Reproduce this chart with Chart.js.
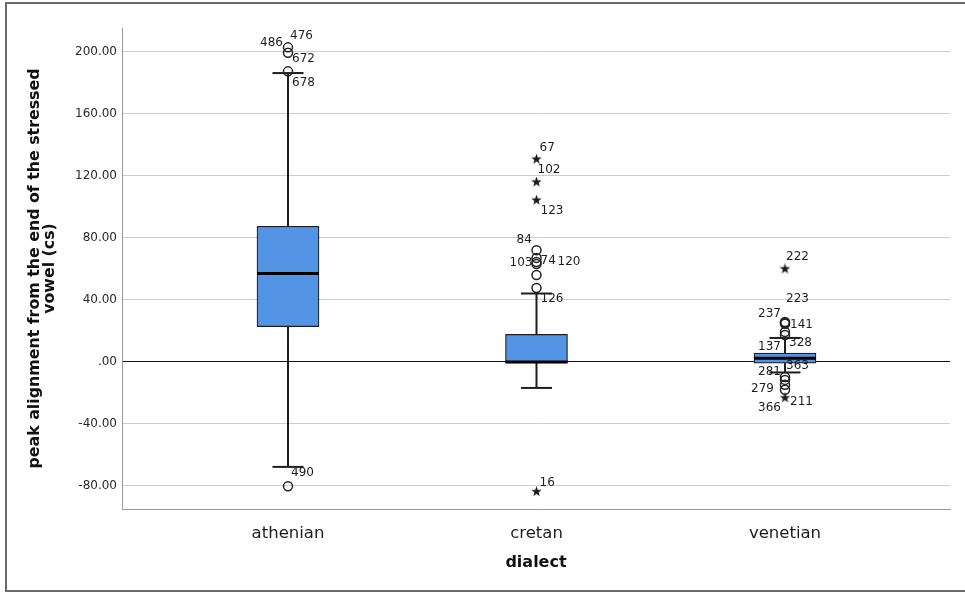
<!DOCTYPE html>
<html lang="en">
<head>
    <meta charset="UTF-8" />
    <title>peak alignment by dialect</title>
    <script src="https://cdn.jsdelivr.net/npm/chart.js"></script>
    <style>
        * { margin: 0; padding: 0; box-sizing: border-box; }
        body { background: #fff; width: 965px; height: 593px; overflow: hidden; position: relative; }
        .frame {
            position: absolute; left: 5px; top: 2px; width: 975px; height: 590px;
            border: 2px solid #6a6a6a;
        }
        canvas { position: absolute; left: 0; top: 0; }
    </style>
</head>
<body>
    <div class="frame"></div>
    <canvas id="boxChart" width="965" height="593"></canvas>
    <script>
        // categories and box statistics
        const categories = ['athenian', 'cretan', 'venetian'];
        const q1 = [22.6, -0.8, -1.0];
        const medians = [57.0, -0.3, 2.2];
        const q3 = [87.4, 17.6, 5.5];
        const whiskerLow = [-68.0, -17.0, -7.0];
        const whiskerHigh = [186.4, 44.0, 15.3];

        // outliers (circles) and extremes (stars), with case numbers
        const athenianOutliers = [219.5, 203, 199.5, 187.5, -80.5];
        const athenianOutlierIds = ['476', '486', '672', '678', '490'];
        const cretanOutliers = [72, 67, 64.4, 63, 56, 47.6];
        const cretanOutlierIds = ['84', '103', '74', '120', '', '126'];
        const cretanExtremes = [130.8, 116, 104.3, -84];
        const cretanExtremeIds = ['67', '102', '123', '16'];
        const venetianOutliers = [25.6, 25, 24.4, 19.2, 17.2, -9.9, -11.8, -15, -18.2];
        const venetianOutlierIds = ['223', '237', '141', '137', '328', '363', '281', '279', '366'];
        const venetianExtremes = [59.9, -23.4];
        const venetianExtremeIds = ['222', '211'];

        const yTicks = [-80, -40, 0, 40, 80, 120, 160, 200];

        const outlierSets = [
            { cat: 0, values: athenianOutliers, ids: athenianOutlierIds, star: false },
            { cat: 1, values: cretanOutliers, ids: cretanOutlierIds, star: false },
            { cat: 1, values: cretanExtremes, ids: cretanExtremeIds, star: true },
            { cat: 2, values: venetianOutliers, ids: venetianOutlierIds, star: false },
            { cat: 2, values: venetianExtremes, ids: venetianExtremeIds, star: true }
        ];

        // where SPSS put each case label relative to its marker
        const labelOffsets = {
            '476': [2, 14], '486': [-28, -4], '672': [4, 6], '678': [4, 12], '490': [3, -13],
            '67': [3, -11], '102': [1, -12], '123': [4, 11], '84': [-20, -10], '103': [-27, 5],
            '74': [4, -1], '120': [21, -2], '126': [4, 11], '16': [3, -9],
            '222': [1, -12], '223': [1, -23], '237': [-27, -9], '141': [5, 1], '137': [-27, 15],
            '328': [4, 8], '363': [1, -11], '281': [-27, -8], '279': [-34, 4], '366': [-27, 18], '211': [5, 4]
        };

        function makeStar(size) {
            const c = document.createElement('canvas');
            c.width = size; c.height = size;
            const g = c.getContext('2d');
            g.fillStyle = '#1a1a1a';
            g.beginPath();
            for (let i = 0; i < 10; i++) {
                const r = i % 2 ? size * 0.2 : size * 0.5;
                const a = -Math.PI / 2 + i * Math.PI / 5;
                g.lineTo(size / 2 + r * Math.cos(a), size / 2 + r * Math.sin(a));
            }
            g.closePath();
            g.fill();
            return c;
        }
        const starImg = makeStar(11);

        const boxWidth = 62;
        const capWidth = 31;

        const whiskerPlugin = {
            id: 'whiskers',
            beforeDatasetsDraw(chart) {
                const { ctx, scales: { x, y } } = chart;
                ctx.save();
                ctx.strokeStyle = '#1e1e1e';
                ctx.lineWidth = 2;
                categories.forEach((c, i) => {
                    const px = x.getPixelForValue(i);
                    const segs = [[whiskerHigh[i], q3[i]], [q1[i], whiskerLow[i]]];
                    segs.forEach(([a, b]) => {
                        ctx.beginPath();
                        ctx.moveTo(px, y.getPixelForValue(a));
                        ctx.lineTo(px, y.getPixelForValue(b));
                        ctx.stroke();
                    });
                    [whiskerHigh[i], whiskerLow[i]].forEach(v => {
                        const py = y.getPixelForValue(v);
                        ctx.beginPath();
                        ctx.moveTo(px - capWidth / 2, py);
                        ctx.lineTo(px + capWidth / 2, py);
                        ctx.stroke();
                    });
                });
                ctx.restore();
            },
            afterDatasetsDraw(chart) {
                const { ctx, scales: { x, y } } = chart;
                ctx.save();
                // median lines
                ctx.strokeStyle = '#000';
                ctx.lineWidth = 3;
                categories.forEach((c, i) => {
                    const px = x.getPixelForValue(i);
                    const py = y.getPixelForValue(medians[i]);
                    ctx.beginPath();
                    ctx.moveTo(px - boxWidth / 2, py);
                    ctx.lineTo(px + boxWidth / 2, py);
                    ctx.stroke();
                });
                // case labels
                ctx.fillStyle = '#1e1e1e';
                ctx.font = '12px "DejaVu Sans"';
                ctx.textAlign = 'left';
                ctx.textBaseline = 'middle';
                outlierSets.forEach(set => {
                    const px = x.getPixelForValue(set.cat);
                    set.values.forEach((v, k) => {
                        const id = set.ids[k];
                        if (!id) return;
                        const off = labelOffsets[id] || [4, 10];
                        ctx.fillText(id, px + off[0], y.getPixelForValue(v) + off[1]);
                    });
                });
                ctx.restore();
            }
        };

        const datasets = [{
            type: 'bar',
            data: categories.map((c, i) => ({ x: i, y: [q1[i], q3[i]] })),
            backgroundColor: '#5394e4',
            borderColor: '#1e1e1e',
            borderWidth: 1.2,
            borderSkipped: false,
            barThickness: boxWidth,
            order: 2
        }];
        outlierSets.forEach(set => {
            datasets.push({
                type: 'scatter',
                data: set.values.map(v => ({ x: set.cat, y: v })),
                pointStyle: set.star ? starImg : 'circle',
                pointRadius: 4.5,
                backgroundColor: 'rgba(255,255,255,0)',
                borderColor: '#222',
                borderWidth: 1.5,
                clip: { left: 10, right: 10, top: 3, bottom: 10 },
                order: 1
            });
        });

        new Chart(document.getElementById('boxChart'), {
            type: 'bar',
            data: { datasets: datasets },
            options: {
                responsive: false,
                animation: false,
                layout: { padding: { top: 28, right: 15, left: 0, bottom: 0 } },
                plugins: { legend: { display: false }, tooltip: { enabled: false } },
                scales: {
                    x: {
                        type: 'linear',
                        min: -0.668,
                        max: 2.664,
                        offset: false,
                        afterBuildTicks: s => { s.ticks = categories.map((c, i) => ({ value: i })); },
                        afterFit: s => { s.height = 84; },
                        grid: { display: false, offset: false },
                        border: { color: '#999', width: 1 },
                        ticks: {
                            callback: v => categories[v],
                            font: { family: 'DejaVu Sans', size: 16.5 },
                            color: '#1e1e1e',
                            padding: 7,
                            maxRotation: 0
                        },
                        title: {
                            display: true,
                            text: 'dialect',
                            font: { family: 'DejaVu Sans', size: 16, weight: 'bold', lineHeight: 1.2 },
                            color: '#111',
                            padding: { top: 0, bottom: 21 }
                        }
                    },
                    y: {
                        type: 'linear',
                        min: -95.2,
                        max: 215.5,
                        afterBuildTicks: s => { s.ticks = yTicks.map(v => ({ value: v })); },
                        afterFit: s => { s.width = 122; },
                        grid: {
                            color: c => (c.tick && c.tick.value === 0) ? '#111' : '#cdcdcd',
                            drawTicks: false,
                            lineWidth: 1
                        },
                        border: { color: '#999', width: 1 },
                        ticks: {
                            callback: v => v === 0 ? '.00' : v.toFixed(2),
                            font: { family: 'DejaVu Sans', size: 12 },
                            color: '#2a2a2a',
                            padding: 5
                        },
                        title: {
                            display: true,
                            text: ['peak alignment from the end of the stressed', 'vowel (cs)'],
                            font: { family: 'DejaVu Sans', size: 15.8, weight: 'bold', lineHeight: 0.95 },
                            color: '#111',
                            padding: { top: 27.5, bottom: 0 }
                        }
                    }
                }
            },
            plugins: [whiskerPlugin]
        });
    </script>
</body>
</html>
